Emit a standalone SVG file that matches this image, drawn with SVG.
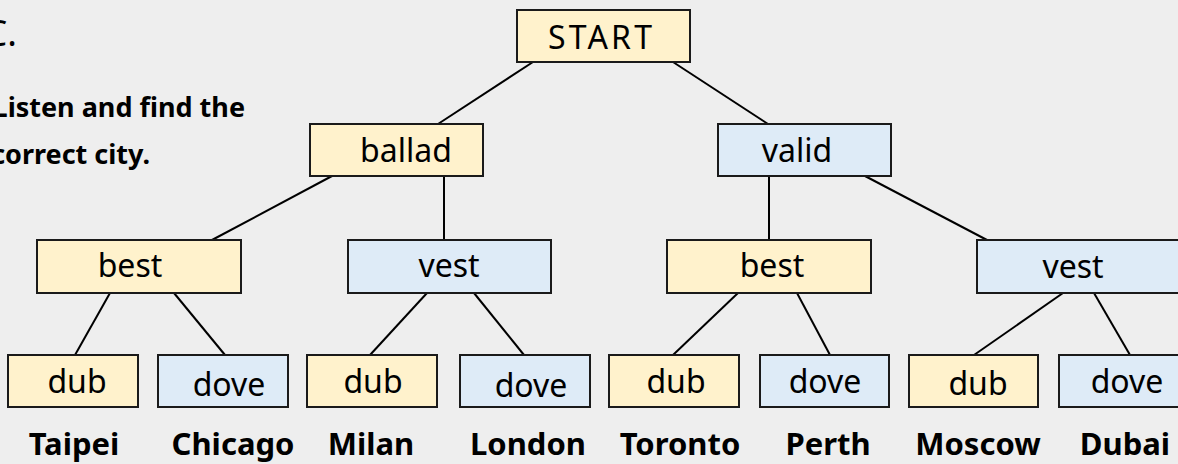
<svg xmlns="http://www.w3.org/2000/svg" width="1178" height="464" viewBox="0 0 1178 464">
<style>
.bg{fill:#eeeeee}
.y{fill:#fff2cc;stroke:#1a1a1a;stroke-width:2}
.b{fill:#deebf7;stroke:#1a1a1a;stroke-width:2}
.lbl{font-family:"Noto Sans","Open Sans","DejaVu Sans",sans-serif;font-size:32px;fill:#000;text-anchor:middle}
.city{font-family:"Noto Sans","Open Sans","DejaVu Sans",sans-serif;font-size:31px;font-weight:bold;fill:#000;text-anchor:middle}
.ins{font-family:"Noto Sans","Open Sans","DejaVu Sans",sans-serif;font-size:27px;font-weight:bold;fill:#000;text-anchor:end}
.conn line{stroke:#000;stroke-width:2}
</style>
<rect class="bg" x="0" y="0" width="1178" height="464"/>
<g id="header">
<text x="17" y="46" style="font-family:'Noto Sans',sans-serif;font-size:36px;fill:#000;text-anchor:end">C.</text>
<text class="ins" x="245" y="117">Listen and find the</text>
<text class="ins" x="150" y="164">correct city.</text>
</g>
<g id="connectors" class="conn">
<line x1="533" y1="62" x2="438" y2="124"/>
<line x1="673" y1="62" x2="768" y2="124"/>
<line x1="332" y1="176" x2="212" y2="240"/>
<line x1="444" y1="176" x2="444" y2="240"/>
<line x1="769" y1="176" x2="769" y2="240"/>
<line x1="865" y1="176" x2="987" y2="240"/>
<line x1="110" y1="293" x2="75" y2="355"/>
<line x1="174" y1="293" x2="225" y2="355"/>
<line x1="427" y1="293" x2="370" y2="355"/>
<line x1="474" y1="293" x2="524" y2="355"/>
<line x1="738" y1="293" x2="673" y2="355"/>
<line x1="797" y1="293" x2="830" y2="355"/>
<line x1="1063" y1="293" x2="974" y2="355"/>
<line x1="1094" y1="293" x2="1130" y2="355"/>
</g>
<g id="start"><rect class="y" x="517" y="10" width="173" height="52"/><text class="lbl" x="600" y="49" textLength="104" lengthAdjust="spacing">START</text></g>
<g id="ballad"><rect class="y" x="310" y="124" width="173" height="52"/><text class="lbl" x="406" y="162">ballad</text></g>
<g id="valid"><rect class="b" x="718" y="124" width="173" height="52"/><text class="lbl" x="797" y="162">valid</text></g>
<g id="best1"><rect class="y" x="37" y="240" width="204" height="53"/><text class="lbl" x="130" y="277">best</text></g>
<g id="vest1"><rect class="b" x="348" y="240" width="203" height="53"/><text class="lbl" x="449" y="277">vest</text></g>
<g id="best2"><rect class="y" x="667" y="240" width="204" height="53"/><text class="lbl" x="772" y="277">best</text></g>
<g id="vest2"><rect class="b" x="977" y="240" width="210" height="53"/><text class="lbl" x="1073" y="278">vest</text></g>
<g id="dub1"><rect class="y" x="8" y="355" width="130" height="52"/><text class="lbl" x="77" y="393">dub</text></g>
<g id="dove1"><rect class="b" x="158" y="355" width="130" height="52"/><text class="lbl" x="229" y="396">dove</text></g>
<g id="dub2"><rect class="y" x="307" y="355" width="130" height="52"/><text class="lbl" x="373" y="393">dub</text></g>
<g id="dove2"><rect class="b" x="460" y="355" width="130" height="52"/><text class="lbl" x="531" y="397">dove</text></g>
<g id="dub3"><rect class="y" x="609" y="355" width="130" height="52"/><text class="lbl" x="676" y="393">dub</text></g>
<g id="dove3"><rect class="b" x="760" y="355" width="129" height="52"/><text class="lbl" x="825" y="393">dove</text></g>
<g id="dub4"><rect class="y" x="909" y="355" width="129" height="52"/><text class="lbl" x="978" y="395">dub</text></g>
<g id="dove4"><rect class="b" x="1059" y="355" width="130" height="52"/><text class="lbl" x="1127" y="393">dove</text></g>
<g id="cities">
<text class="city" x="74" y="455">Taipei</text>
<text class="city" x="233" y="455">Chicago</text>
<text class="city" x="371" y="455">Milan</text>
<text class="city" x="528" y="455">London</text>
<text class="city" x="680" y="455">Toronto</text>
<text class="city" x="828" y="455">Perth</text>
<text class="city" x="978" y="455">Moscow</text>
<text class="city" x="1125" y="455">Dubai</text>
</g>
</svg>
